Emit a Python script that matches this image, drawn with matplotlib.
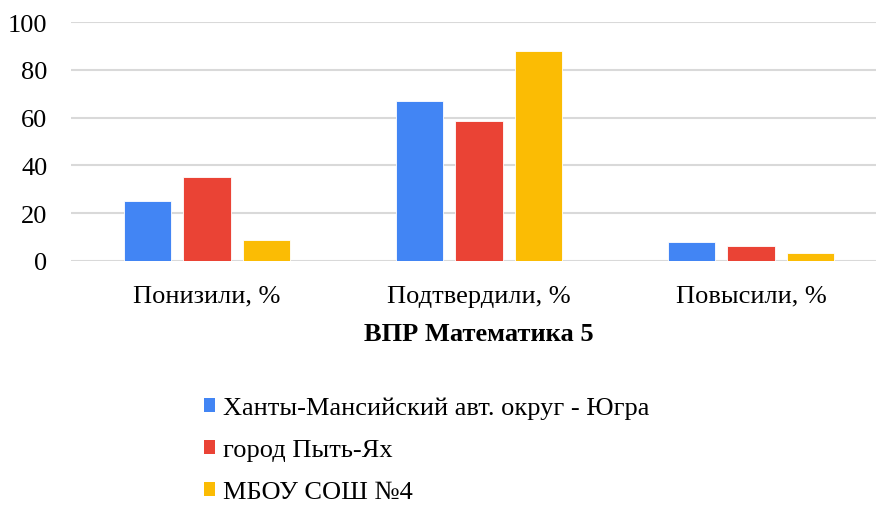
import numpy as np
import matplotlib
matplotlib.use("Agg")
import matplotlib.pyplot as plt
from matplotlib.patches import Patch

categories = ["Понизили, %", "Подтвердили, %", "Повысили, %"]
series_names = ["Ханты-Мансийский авт. округ - Югра", "город Пыть-Ях", "МБОУ СОШ №4"]
hmao = [25.0, 67.0, 7.8]
pyt_yah = [35.2, 58.5, 6.1]
school4 = [8.8, 87.8, 3.2]
colors = ["#4285F4", "#EA4335", "#FBBC04"]
title = "ВПР Математика 5"

plt.rcParams["font.family"] = ["Liberation Serif", "DejaVu Serif"]

fig = plt.figure(figsize=(8.76, 5.06), dpi=100)
ax = fig.add_axes([71 / 876, 1 - 262 / 506, 816 / 876, 239 / 506])

x = np.arange(len(categories))
width = 0.173
pitch = 0.22
for i, (vals, c) in enumerate(zip([hmao, pyt_yah, school4], colors)):
    ax.bar(x + (i - 1) * pitch, vals, width, color=c, edgecolor="white",
           linewidth=0.6, zorder=3)

ax.set_xlim(-0.5, 2.5)
ax.set_ylim(0, 100)
ax.set_yticks(np.arange(0, 101, 20))
ax.set_xticks(x)
ax.set_xticklabels(categories, fontsize=19)
ax.tick_params(axis="y", labelsize=19, length=0, pad=17)
ax.tick_params(axis="x", length=0, pad=17)
ax.grid(axis="y", color="#d9d9d9", linewidth=1.5, zorder=0)
for s in ax.spines.values():
    s.set_visible(False)
ax.set_xlabel(title, fontsize=19, fontweight="bold", labelpad=11)

handles = [Patch(facecolor=c, edgecolor="none") for c in colors]
fig.legend(handles, series_names, loc="upper left",
           bbox_to_anchor=(193 / 876, 1 - 387 / 506), frameon=False,
           fontsize=19, handlelength=0.45, handleheight=0.45,
           handletextpad=0.27, labelspacing=0.76, borderaxespad=0)

fig.savefig("out.png", dpi=100)
